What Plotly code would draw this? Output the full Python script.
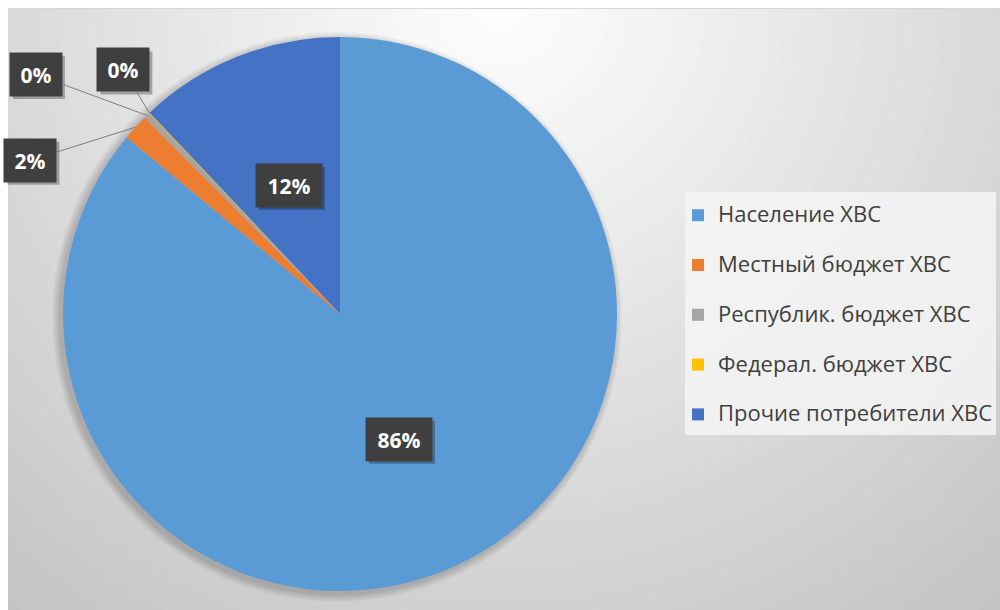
import math
import plotly.graph_objects as go

# ---------------- data ----------------
labels = ["Население ХВС", "Местный бюджет ХВС", "Республик. бюджет ХВС",
          "Федерал. бюджет ХВС", "Прочие потребители ХВС"]
values = [86.0, 1.55, 0.35, 0.05, 12.05]
colors = ["#5B9BD5", "#ED7D31", "#A5A5A5", "#FFC000", "#4472C4"]

# ---------------- layout constants ----------------
W, H = 1000, 610
CX, CY, R = 340, 314, 277          # pie centre / radius in pixels
FONT = "Open Sans"
# pixel offsets of the outside labels (index -> (ax, ay))
OUTSIDE_OFFSETS = {1: (-105, 33), 2: (-111, -41), 3: (-26, -43)}
LEGEND_BOX = (685, 192, 996, 435)  # decorative legend background (px)
BOX_H, BOX_PAD = 39, 2


def px(x):
    return x / W


def py(y):
    return 1 - y / H


fig = go.Figure()
fig.add_trace(go.Pie(
    labels=[f"<span style='font-size:22px'>{l}</span><br> " for l in labels],
    values=values,
    marker=dict(colors=colors, line=dict(width=0)),
    sort=False,
    direction="clockwise",
    rotation=0,
    textinfo="none",
    hoverinfo="label+percent",
    domain=dict(x=[px(CX - R), px(CX + R)], y=[py(CY + R), py(CY - R)]),
))

# ---------------- background gradient ----------------
shapes = []
GC_X, GC_Y, GMAX = 500, 0, 850
N = 60
for i in range(N, 0, -1):
    r = 950 * i / N
    g = int(round(255 - 64 * min(r, GMAX) / GMAX))
    g = max(min(g, 255), 190)
    shapes.append(dict(type="circle", xref="paper", yref="paper",
                       x0=px(GC_X - r), x1=px(GC_X + r),
                       y0=py(GC_Y + r), y1=py(GC_Y - r),
                       fillcolor=f"rgb({g},{g},{g})", line=dict(width=0),
                       layer="below"))
# white outer strips + top border line
shapes.append(dict(type="rect", xref="paper", yref="paper", x0=0, x1=1,
                   y0=py(8), y1=1, fillcolor="white", line=dict(width=0), layer="below"))
shapes.append(dict(type="rect", xref="paper", yref="paper", x0=0, x1=px(8),
                   y0=0, y1=1, fillcolor="white", line=dict(width=0), layer="below"))
shapes.append(dict(type="line", xref="paper", yref="paper", x0=px(8), x1=1,
                   y0=py(8.5), y1=py(8.5), line=dict(color="#d6d6d6", width=1), layer="below"))
# legend background
shapes.append(dict(type="rect", xref="paper", yref="paper",
                   x0=px(LEGEND_BOX[0]), x1=px(LEGEND_BOX[2]),
                   y0=py(LEGEND_BOX[3]), y1=py(LEGEND_BOX[1]),
                   fillcolor="rgba(245,245,245,0.85)", line=dict(width=0), layer="below"))
# soft pie shadow
for k in range(8, 0, -1):
    rr = R + k
    shapes.append(dict(type="circle", xref="paper", yref="paper",
                       x0=px(CX - 3 - rr), x1=px(CX - 3 + rr),
                       y0=py(CY + 3 + rr), y1=py(CY + 3 - rr),
                       fillcolor="rgba(0,0,0,0.025)", line=dict(width=0),
                       layer="below"))

# ---------------- data labels ----------------
total = sum(values)
annotations = []
cum = 0.0
for i, v in enumerate(values):
    a0 = cum / total * 2 * math.pi
    cum += v
    a1 = cum / total * 2 * math.pi
    mid = (a0 + a1) / 2
    pct = f"{round(100 * v / total):.0f}%"
    bw = 20 + 14 * len(pct)
    box = dict(text=pct, xref="paper", yref="paper",
               font=dict(family=FONT, size=21, color="white", weight=700),
               bgcolor="#3f3f3f", width=bw, height=BOX_H, borderpad=BOX_PAD,
               align="center", valign="middle",
               xanchor="center", yanchor="middle")
    if i in OUTSIDE_OFFSETS:
        ex = CX + R * math.sin(mid)
        ey = CY - R * math.cos(mid)
        ax, ay = OUTSIDE_OFFSETS[i]
        ann = dict(box, x=px(ex), y=py(ey), showarrow=True, ax=ax, ay=ay,
                   arrowhead=0, arrowwidth=1, arrowcolor="#7f7f7f", standoff=0)
        bx, by = ex + ax, ey + ay
    else:
        bx = CX + 0.5 * R * math.sin(mid)
        by = CY - 0.5 * R * math.cos(mid)
        ann = dict(box, x=px(bx), y=py(by), showarrow=False)
    # drop shadow behind the label box
    hw = (bw + 2 * BOX_PAD) / 2
    hh = (BOX_H + 2 * BOX_PAD) / 2
    shapes.append(dict(type="rect", xref="paper", yref="paper",
                       x0=px(bx - hw + 3), x1=px(bx + hw + 3),
                       y0=py(by + hh + 3), y1=py(by - hh + 3),
                       fillcolor="rgba(0,0,0,0.28)", line=dict(width=0),
                       layer="above"))
    annotations.append(ann)

fig.update_layout(
    width=W, height=H,
    margin=dict(l=0, r=0, t=0, b=0),
    paper_bgcolor="white",
    plot_bgcolor="rgba(0,0,0,0)",
    shapes=shapes,
    annotations=annotations,
    showlegend=True,
    legend=dict(x=px(678), y=py(197), xanchor="left", yanchor="top",
                bgcolor="rgba(0,0,0,0)", borderwidth=0,
                font=dict(family=FONT, size=18, color="#404040"),
                valign="top", itemclick=False, itemdoubleclick=False),
)

fig.write_html("out.html")
